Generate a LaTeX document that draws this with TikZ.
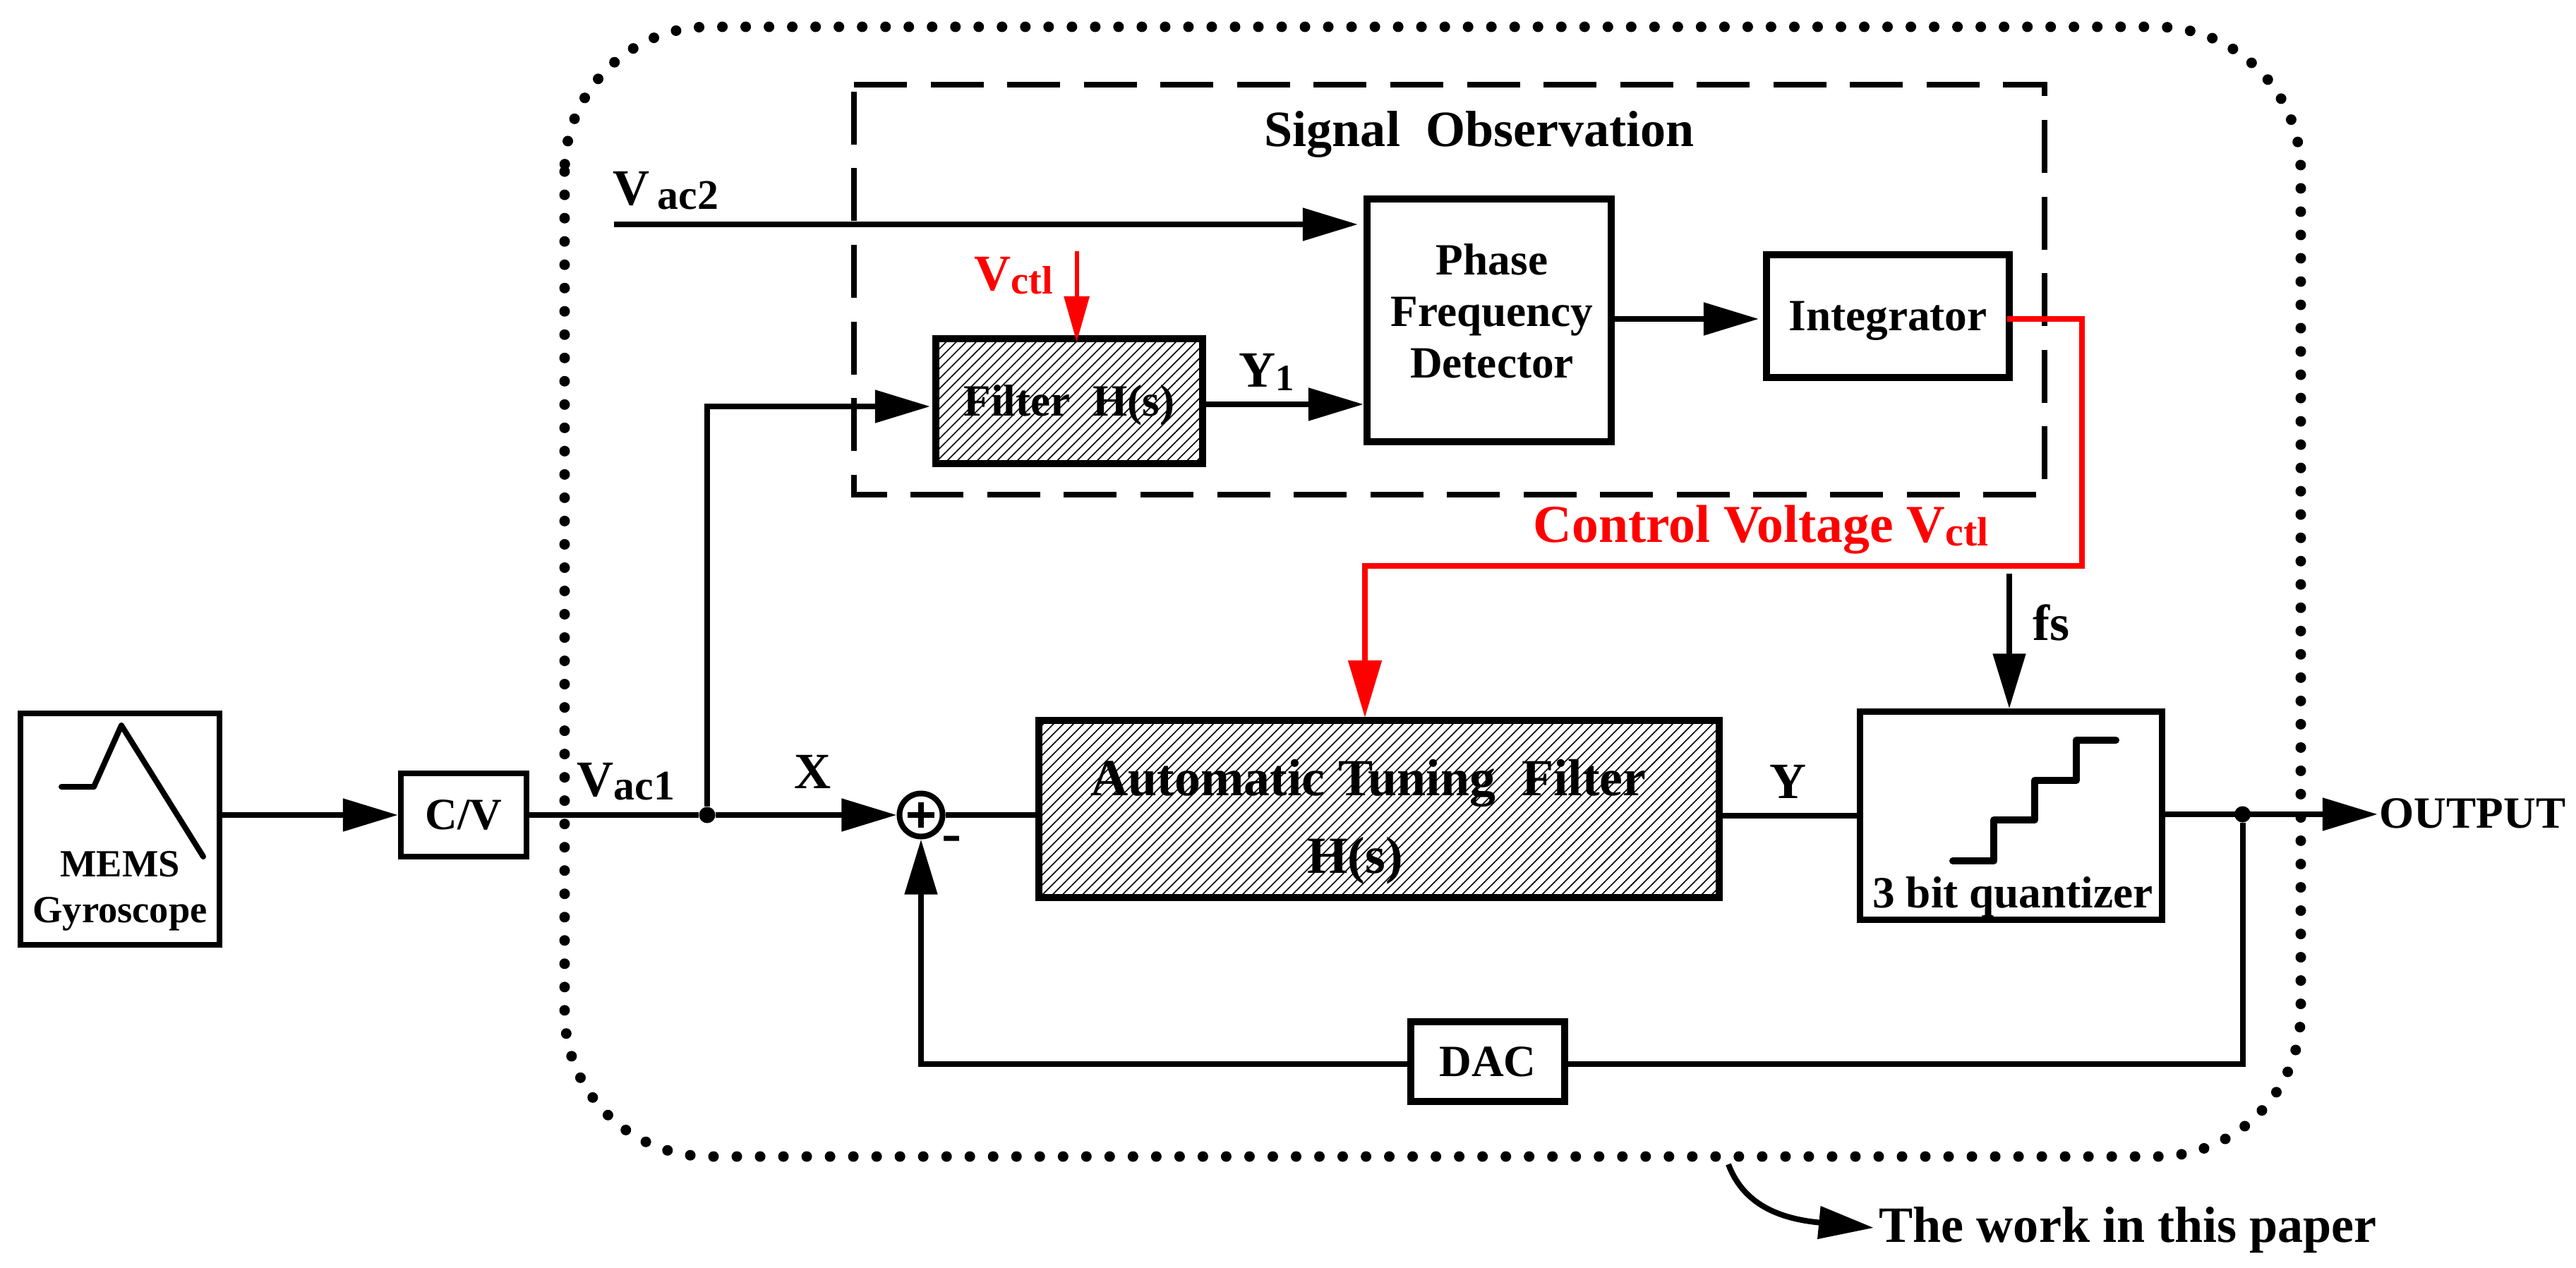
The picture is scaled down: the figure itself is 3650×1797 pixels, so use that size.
\documentclass[tikz,border=0pt]{standalone}
\usepackage{fontspec}
\setmainfont{Liberation Serif}
\usetikzlibrary{arrows.meta, patterns.meta}

\newcommand{\fsize}[1]{\fontsize{#1}{#1}\selectfont}
\newcommand{\subs}[2][17]{{\fsize{#1}\raisebox{-0.055cm}{#2}}}

\begin{document}
\begin{tikzpicture}[x=0.01cm, y=-0.01cm,
  block/.style = {rectangle, draw, line width=0.1cm, inner sep=0pt,
                   text height=0.41cm, text depth=0cm, font=\fsize{18}\bfseries},
  hatched/.style = {pattern={Lines[angle=45,distance=0.1cm,line width=0.016cm]}},
  txt/.style = {inner sep=0pt, font=\fsize{18}\bfseries},
  big/.style = {inner sep=0pt, anchor=base west, font=\fsize{20.5}\bfseries},
  wire/.style = {line width=0.08cm},
  arrow/.style = {line width=0.08cm, -{Triangle[length=0.78cm,width=0.45cm]}},
  redarrow/.style = {line width=0.08cm, red, -{Triangle[length=0.81cm,width=0.46cm]}},
  joint/.style = {circle, fill, inner sep=0pt, minimum size=0.23cm},
  trace/.style = {line width=0.08cm, line cap=round, line join=round}
  ]
\useasboundingbox (0,0) rectangle (3650,1797);

% dotted and dashed frames
\draw [line width=0.15cm, line cap=round, dash pattern=on 0cm off 0.33cm, rounded corners=2.05cm]
  (800,38) rectangle (3260,1639);
\draw [line width=0.085cm, dash pattern=on 0.75cm off 0.335cm]
  (1210,120) -- (2897,120) -- (2897,701) -- (1210,701) -- cycle;

% blocks
\node (gyro) [block, line width=0.08cm, minimum width=2.82cm, minimum height=3.28cm] at (170,1175) {};
\node (cv)   [block, line width=0.08cm, minimum width=1.78cm, minimum height=1.17cm] at (657,1155) {C/V};
\node (filt) [block, hatched, minimum width=3.78cm, minimum height=1.77cm] at (1515,568.5) {Filter~~H(s)};
\node (pfd)  [block, minimum width=3.46cm, minimum height=3.44cm] at (2110,454) {};
\node (integ) [block, minimum width=3.44cm, minimum height=1.74cm] at (2675,448) {Integrator};
\node (atf)  [block, hatched, minimum width=9.64cm, minimum height=2.51cm] at (1954,1146.5) {};
\node (quant) [block, line width=0.09cm, minimum width=4.27cm, minimum height=2.94cm] at (2849.5,1156) {};
\node (dac)  [block, minimum width=2.18cm, minimum height=1.13cm] at (2108,1504.5) {DAC};
\node (sum)  [circle, draw, line width=0.08cm, inner sep=0pt, minimum size=0.61cm] at (1305,1155) {};
\node (split) [joint] at (1002,1155) {};
\node (outjoint) [joint] at (3177.5,1154) {};

% block texts
\node (gyrotxt) [txt, align=center, font=\fontsize{15.5}{18.3}\selectfont\bfseries] at (170,1263) {MEMS\\Gyroscope};
\node (pfdtxt) [txt, align=center, font=\fontsize{18}{20.7}\selectfont\bfseries] at (2114,441) {Phase\\Frequency\\Detector};
\node (atfa) [txt, anchor=base, font=\fsize{21}\bfseries] at (1939,1127) {Automatic Tuning~~Filter};
\node (atfb) [txt, anchor=base, font=\fsize{21}\bfseries] at (1920,1237) {H(s)};
\node (quanttxt) [txt, anchor=base] at (2852,1286) {3 bit quantizer};

% free ends
\coordinate (vactwo) at (870,318);
\coordinate (pfdup) at (1924,318);
\coordinate (pfddown) at (1932,573);
\coordinate (filtin) at (1318,576);
\coordinate (vctltop) at (1525.6,356);
\coordinate (vctlend) at (1525.6,485);
\coordinate (integin) at (2492,452);
\coordinate (ctlout) at (2844,452);
\coordinate (ctlturn) at (2950,802);
\coordinate (atfin) at (1934,1017);
\coordinate (fstop) at (2847,813);
\coordinate (outtip) at (3369,1154);
\coordinate (fbturn) at (3177.5,1508);
\coordinate (workstart) at (2449,1650);
\coordinate (workend) at (2655,1740);

% connections
\draw [arrow] (gyro.east |- cv.west) -- (cv.west);
\draw [wire] (cv.east) -- (split);
\draw [arrow] (split) -- (sum.west);
\draw [arrow] (split) |- (filtin);
\draw [arrow] (vactwo) -- (pfdup);
\draw [arrow] (filt.east |- pfddown) -- (pfddown);
\draw [arrow] (pfd.east |- integin) -- (integin);
\draw [redarrow] (ctlout) -| (ctlturn) -| (atfin);
\draw [line width=0.06cm, red, -{Triangle[length=0.65cm,width=0.35cm]}] (vctltop) -- (vctlend);
\draw [arrow] (fstop) -- (fstop |- quant.north);
\draw [wire] (sum.east) -- (sum.east -| atf.west);
\draw [wire] (atf.east |- quant.west) -- (quant.west);
\draw [arrow] (outjoint -| quant.east) -- (outtip);
\draw [wire] (outjoint) |- (dac.east |- fbturn);
\draw [arrow] (dac.west |- fbturn) -| (sum.south);
\draw [arrow] (workstart) .. controls (2472,1712) and (2530,1728) .. (workend);

% signal sketches
\draw [trace] (87,1115) -- (133,1115) -- (172,1028) -- (288,1214);
\draw [trace, line width=0.1cm] (2767,1220) -- (2825,1220) -- (2825,1162) -- (2883,1162) -- (2883,1106)
  -- (2942,1106) -- (2942,1049) -- (2998,1049);
\draw [line width=0.08cm] (sum.center) ++(-19,0) -- ++(38,0);
\draw [line width=0.08cm] (sum.center) ++(0,-18) -- ++(0,36);

% labels
\node (vacone) [big] at (817,1128) {V\subs{ac1}};
\node (vactwolab) [big] at (868,291) {V\hspace{0.11cm}\subs{ac2}};
\node (xlab) [big, anchor=base] at (1152,1117) {X};
\node (ylab) [big, anchor=base] at (2534,1131) {Y};
\node (yonelab) [big] at (1755,548) {Y\subs[15]{1}};
\node (fslab) [big] at (2880,907) {fs};
\node (minus) [txt, font=\fsize{24}\bfseries] at (1349,1197) {-};
\node (vctllab) [big, red] at (1380,411) {V\subs[16]{ctl}};
\node (ctllab) [big, red, font=\fsize{21.5}\bfseries] at (2172,768) {Control Voltage V\subs[16.5]{ctl}};
\node (signal) [big] at (1791,208) {Signal~~Observation};
\node (output) [txt, anchor=base west] at (3371,1173) {OUTPUT};
\node (work) [big] at (2662,1760) {The work in this paper};
\end{tikzpicture}
\end{document}
